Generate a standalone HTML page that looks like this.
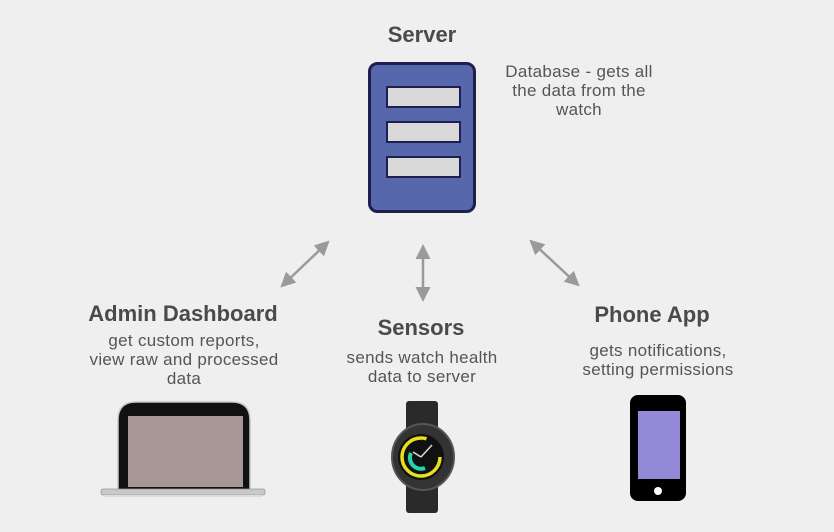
<!DOCTYPE html>
<html><head><meta charset="utf-8"><style>
html,body{margin:0;padding:0;background:#efefef;}
svg{display:block;}
text{font-family:"Liberation Sans",sans-serif;}
.t{font-size:22px;font-weight:bold;fill:#4a4a4a;}
.s{font-size:17px;fill:#555;letter-spacing:0.3px;}
</style></head><body>
<svg width="834" height="532" viewBox="0 0 834 532" xmlns="http://www.w3.org/2000/svg">
<defs>
<marker id="a" markerWidth="6" markerHeight="6" refX="4" refY="3" orient="auto-start-reverse" markerUnits="strokeWidth">
<path d="M0,0 L6,3 L0,6 z" fill="#9a9a9a"/></marker>
</defs>
<rect width="834" height="532" fill="#efefef"/>
<text class="t" x="422" y="42" text-anchor="middle">Server</text>
<rect x="369.5" y="63.5" width="105" height="148" rx="8" fill="#5767ab" stroke="#1f1f4f" stroke-width="3"/>
<rect x="387" y="87" width="73" height="20" fill="#d9d9d9" stroke="#1f1f4f" stroke-width="2"/>
<rect x="387" y="122" width="73" height="20" fill="#d9d9d9" stroke="#1f1f4f" stroke-width="2"/>
<rect x="387" y="157" width="73" height="20" fill="#d9d9d9" stroke="#1f1f4f" stroke-width="2"/>
<text class="s" text-anchor="middle"><tspan x="579" y="77">Database - gets all</tspan><tspan x="579" y="96">the data from the</tspan><tspan x="579" y="115">watch</tspan></text>
<g stroke="#9a9a9a" stroke-width="2.5" fill="none">
<line x1="284" y1="284" x2="326" y2="244" marker-start="url(#a)" marker-end="url(#a)"/>
<line x1="423" y1="249" x2="423" y2="297" marker-start="url(#a)" marker-end="url(#a)"/>
<line x1="533" y1="243" x2="576" y2="283" marker-start="url(#a)" marker-end="url(#a)"/>
</g>
<text class="t" x="183" y="321" text-anchor="middle">Admin Dashboard</text>
<text class="s" text-anchor="middle"><tspan x="184" y="346">get custom reports,</tspan><tspan x="184" y="365">view raw and processed</tspan><tspan x="184" y="384">data</tspan></text>
<text class="t" x="421" y="335" text-anchor="middle">Sensors</text>
<text class="s" text-anchor="middle"><tspan x="422" y="363">sends watch health</tspan><tspan x="422" y="382">data to server</tspan></text>
<text class="t" x="652" y="322" text-anchor="middle">Phone App</text>
<text class="s" text-anchor="middle"><tspan x="658" y="356">gets notifications,</tspan><tspan x="658" y="375">setting permissions</tspan></text>
<!-- laptop -->
<path d="M118,492 L118,420 Q118,402 136,402 L232,402 Q250,402 250,420 L250,492 Z" fill="#111" stroke="#c8c8c8" stroke-width="1.5"/>
<rect x="128" y="416" width="115" height="71" fill="#a89696"/>
<rect x="101" y="489" width="164" height="6" rx="2" fill="#c9c9c9" stroke="#999" stroke-width="0.8"/>
<rect x="104" y="495" width="158" height="2" fill="#ddd"/>
<!-- watch -->
<rect x="406" y="401" width="32" height="30" rx="3" fill="#2a2a2a"/>
<rect x="406" y="484" width="32" height="29" rx="3" fill="#2a2a2a"/>
<ellipse cx="423" cy="457" rx="31" ry="33" fill="#333" stroke="#555" stroke-width="2"/>
<circle cx="421" cy="457" r="23" fill="#111"/>
<circle cx="421" cy="457" r="19" fill="none" stroke="#e8e01c" stroke-width="3.5" stroke-dasharray="95 25"/>
<path d="M411,453 A11,11 0 0 0 425,468" fill="none" stroke="#23d6a8" stroke-width="4"/>
<line x1="421" y1="457" x2="432" y2="445" stroke="#ddd" stroke-width="1.5"/>
<line x1="421" y1="457" x2="413" y2="452" stroke="#ddd" stroke-width="1.5"/>
<!-- phone -->
<rect x="630" y="395" width="56" height="106" rx="8" fill="#000"/>
<rect x="638" y="411" width="42" height="68" fill="#9489d6"/>
<circle cx="658" cy="491" r="4" fill="#fff"/>
</svg>
</body></html>
